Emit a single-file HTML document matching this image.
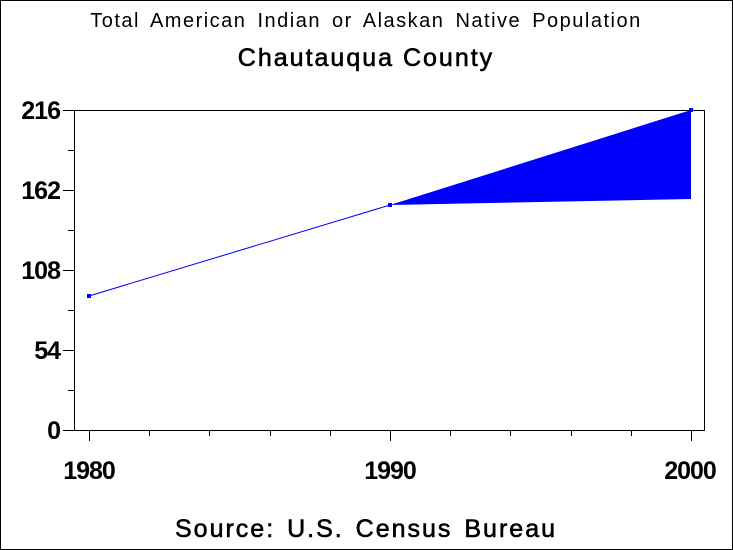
<!DOCTYPE html>
<html><head><style>
body{margin:0;background:#fff;}
svg{display:block;font-family:"Liberation Sans",Arial,sans-serif;}
</style></head><body>
<svg width="733" height="550" viewBox="0 0 733 550">
<rect x="0.5" y="0.5" width="732" height="549" fill="#fff" stroke="#000"/>
<text x="366" y="27" font-size="20" text-anchor="middle" letter-spacing="1.5" word-spacing="4">Total American Indian or Alaskan Native Population</text>
<text x="366" y="66" font-size="25" text-anchor="middle" letter-spacing="2" stroke="#000" stroke-width="0.6">Chautauqua County</text>
<rect x="74.5" y="110.5" width="630" height="320" fill="none" stroke="#000"/>
<g stroke="#000">
<line x1="63" y1="110.5" x2="74" y2="110.5"/><line x1="63" y1="190.5" x2="74" y2="190.5"/>
<line x1="63" y1="270.5" x2="74" y2="270.5"/><line x1="63" y1="350.5" x2="74" y2="350.5"/>
<line x1="63" y1="430.5" x2="74" y2="430.5"/>
<line x1="68" y1="150.5" x2="74" y2="150.5"/><line x1="68" y1="230.5" x2="74" y2="230.5"/>
<line x1="68" y1="310.5" x2="74" y2="310.5"/><line x1="68" y1="390.5" x2="74" y2="390.5"/>
<line x1="89.5" y1="431" x2="89.5" y2="441"/><line x1="390.5" y1="431" x2="390.5" y2="441"/><line x1="691.5" y1="431" x2="691.5" y2="441"/>
<line x1="149.5" y1="431" x2="149.5" y2="436"/><line x1="209.5" y1="431" x2="209.5" y2="436"/>
<line x1="270.5" y1="431" x2="270.5" y2="436"/><line x1="330.5" y1="431" x2="330.5" y2="436"/>
<line x1="450.5" y1="431" x2="450.5" y2="436"/><line x1="510.5" y1="431" x2="510.5" y2="436"/>
<line x1="571.5" y1="431" x2="571.5" y2="436"/><line x1="631.5" y1="431" x2="631.5" y2="436"/>
</g>
<g font-size="25" text-anchor="end" font-weight="bold" letter-spacing="-1">
<text x="60" y="119">216</text><text x="60" y="199">162</text><text x="60" y="279">108</text>
<text x="60" y="359">54</text><text x="60" y="439">0</text>
</g>
<g font-size="25" text-anchor="middle" font-weight="bold" letter-spacing="-1">
<text x="89" y="479">1980</text><text x="390" y="479">1990</text><text x="690" y="479">2000</text>
</g>
<polygon points="390,205 691,110 691,199" fill="#0000ff"/>
<polyline points="89,296 390,205" fill="none" stroke="#0000ff"/>
<rect x="87" y="294" width="4" height="4" fill="#0000ff"/>
<rect x="388" y="203" width="4" height="4" fill="#0000ff"/>
<rect x="689" y="108" width="4" height="4" fill="#0000ff"/>
<text x="366" y="537" font-size="25" text-anchor="middle" letter-spacing="2" word-spacing="3" stroke="#000" stroke-width="0.6">Source: U.S. Census Bureau</text>
</svg>
</body></html>
